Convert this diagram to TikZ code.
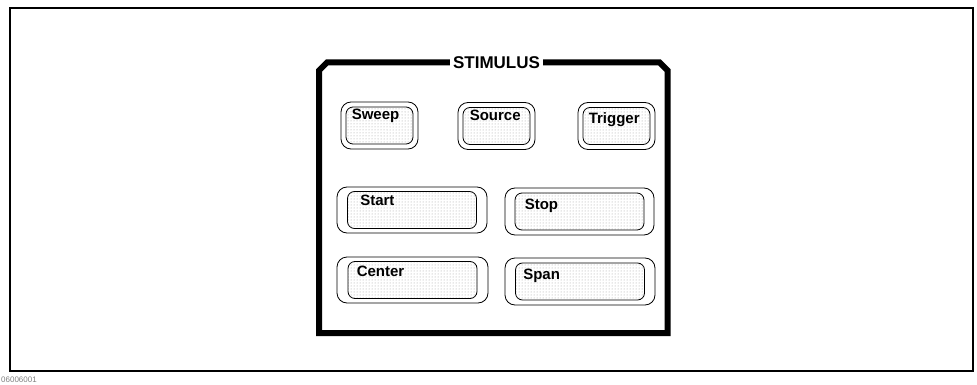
\documentclass[tikz,border=0pt]{standalone}
\usepackage{fontspec}
\newfontfamily\keyfont{Liberation Sans}
\usetikzlibrary{calc, patterns}

\begin{document}
\begin{tikzpicture}[
    x=1pt, y=-1pt,
    frame/.style={draw, line width=2.5pt},
    panel/.style={draw, line width=6pt, line join=miter},
    keyout/.style={draw, line width=0.8pt, rounded corners=10pt, inner sep=0pt},
    keyin/.style={draw, line width=0.8pt, rounded corners=7pt, inner sep=0pt,
        preaction={fill=white}, pattern=dots, pattern color=gray!75},
    lbl/.style={font=\keyfont\fontsize{15}{18}\selectfont\bfseries, inner sep=0pt, anchor=base west}
]
\useasboundingbox (0,0) rectangle (977,385);

% ---- Outer frame ----
\draw[frame] (10,8) rectangle (973,371);
\node[font=\keyfont\fontsize{8}{9}\selectfont, text=gray, anchor=west, inner sep=0pt] (figno) at (1,380) {06006001};

% ---- Stimulus panel ----
\node[font=\keyfont\fontsize{17}{19}\selectfont\bfseries, inner sep=0pt, minimum width=93pt] (title) at (496.5,62.5) {STIMULUS};
\draw[panel] (title.west) -- (327,62.5) -- (319,70.5) -- (319,333)
    -- (667.5,333) -- (667.5,70.5) -- (659.5,62.5) -- (title.east);

% ---- Top row: Sweep, Source, Trigger ----
\node[keyout, minimum width=77pt, minimum height=47pt] (sweep) at (379.5,125.5) {};
\node[keyin, minimum width=67pt, minimum height=37pt] (sweepin) at (sweep) {};
\node[lbl] (sweeplbl) at ($(sweepin.north west)+(6,13)$) {Sweep};

\node[keyout, minimum width=77pt, minimum height=47pt] (source) at (496.5,126) {};
\node[keyin, minimum width=67pt, minimum height=37pt] (sourcein) at (source) {};
\node[lbl] (sourcelbl) at ($(sourcein.north west)+(7,13)$) {Source};

\node[keyout, minimum width=77pt, minimum height=47pt] (trigger) at (616.5,126) {};
\node[keyin, minimum width=67pt, minimum height=37pt] (triggerin) at (trigger) {};
\node[lbl] (triggerlbl) at ($(triggerin.north west)+(6,16)$) {Trigger};

% ---- Start / Stop ----
\node[keyout, minimum width=150pt, minimum height=46pt] (start) at (412,210) {};
\node[keyin, minimum width=129pt, minimum height=37pt] (startin) at (start) {};
\node[lbl] (startlbl) at ($(startin.north west)+(13,14)$) {Start};

\node[keyout, minimum width=149pt, minimum height=47pt] (stop) at (579.5,211.5) {};
\node[keyin, minimum width=129pt, minimum height=37pt] (stopin) at (stop) {};
\node[lbl] (stoplbl) at ($(stopin.north west)+(10,17)$) {Stop};

% ---- Center / Span ----
\node[keyout, minimum width=151pt, minimum height=46pt] (center) at (412.5,280) {};
\node[keyin, minimum width=129pt, minimum height=37pt] (centerin) at (center) {};
\node[lbl] (centerlbl) at ($(centerin.north west)+(9,15)$) {Center};

\node[keyout, minimum width=150pt, minimum height=47pt] (span) at (580,281.5) {};
\node[keyin, minimum width=129pt, minimum height=37pt] (spanin) at (span) {};
\node[lbl] (spanlbl) at ($(spanin.north west)+(8,17)$) {Span};

\end{tikzpicture}
\end{document}
